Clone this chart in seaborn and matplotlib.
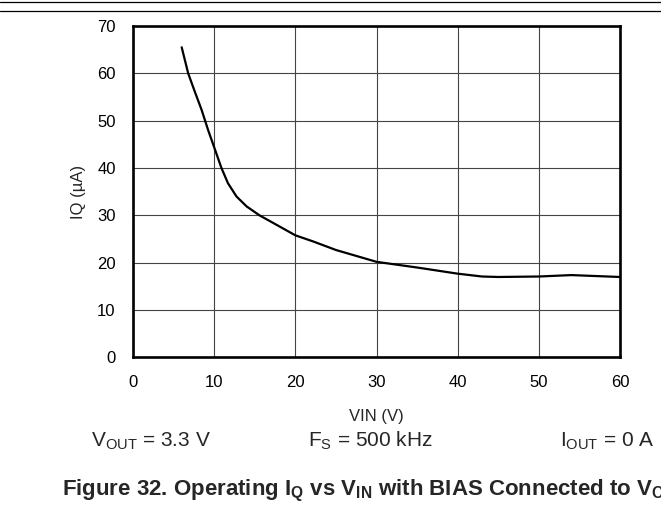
import numpy as np
import pandas as pd
import seaborn as sns
import matplotlib.pyplot as plt
from matplotlib.lines import Line2D

# Curve
vin = [6, 6.8, 7.6, 8.45, 9.26, 10, 10.9, 11.7, 12.75, 14, 15.6, 17.7, 20, 22.2, 25, 30, 35, 40, 43, 45, 50, 54, 57, 60]
iq = [65.5, 60, 56.2, 52.3, 48.0, 44.4, 40, 36.8, 34.0, 31.9, 30, 28.0, 25.8, 24.5, 22.7, 20.2, 19.0, 17.7, 17.1, 17.0, 17.1, 17.4, 17.2, 17.0]

x_ticks = [0, 10, 20, 30, 40, 50, 60]
y_ticks = [0, 10, 20, 30, 40, 50, 60, 70]

sns.set_style('white')
plt.rcParams['font.family'] = ['Liberation Sans', 'DejaVu Sans']
plt.rcParams['mathtext.fontset'] = 'custom'
plt.rcParams['mathtext.rm'] = 'Liberation Sans'
plt.rcParams['mathtext.bf'] = 'Liberation Sans:bold'
plt.rcParams['mathtext.default'] = 'regular'

df = pd.DataFrame({'VIN': vin, 'IQ': iq})

fig = plt.figure(figsize=(6.61, 5.29), dpi=100)
ax = fig.add_axes([0.2012, 0.3242, 0.7368, 0.6267])
sns.lineplot(data=df, x='VIN', y='IQ', color='black', linewidth=1.6, ax=ax)

ax.set_xlim(0, 60)
ax.set_ylim(0, 70)
ax.set_xticks(x_ticks)
ax.set_yticks(y_ticks)
ax.tick_params(length=0, labelsize=12, pad=12.5, colors='black')
ax.grid(True, color='#444444', linewidth=0.8)
ax.set_axisbelow(True)
for s in ax.spines.values():
    s.set_visible(True)
    s.set_color('black')
    s.set_linewidth(1.9)
ax.set_xlabel('')
ax.set_ylabel('')

fig.text(78 / 661, 1 - 191.5 / 529, 'IQ (µA)', fontsize=12, rotation=90, ha='center', va='center')
fig.text(376.5 / 661, 1 - 416 / 529, 'VIN (V)', fontsize=12, ha='center', va='center')

# Conditions row
cond_y = 1 - 446.7 / 529
fig.text(91 / 661, cond_y, r'V$_{OUT}$ = 3.3 V', fontsize=15, ha='left', va='baseline')
fig.text(308 / 661, cond_y, r'F$_{S}$ = 500 kHz', fontsize=15, ha='left', va='baseline')
fig.text(560 / 661, cond_y, r'I$_{OUT}$ = 0 A', fontsize=15, ha='left', va='baseline')

fig.text(62 / 661, 1 - 495 / 529,
         r'Figure 32. Operating I$_{Q}$ vs V$_{IN}$ with BIAS Connected to V$_{OUT}$',
         fontsize=16, fontweight='bold', ha='left', va='baseline')

# page rules at the top
for yy in [1 - 1.5 / 529, 1 - 10.5 / 529]:
    fig.add_artist(Line2D([0, 1], [yy, yy], transform=fig.transFigure, color='black', linewidth=0.9))

plt.savefig('out.png', dpi=100)
